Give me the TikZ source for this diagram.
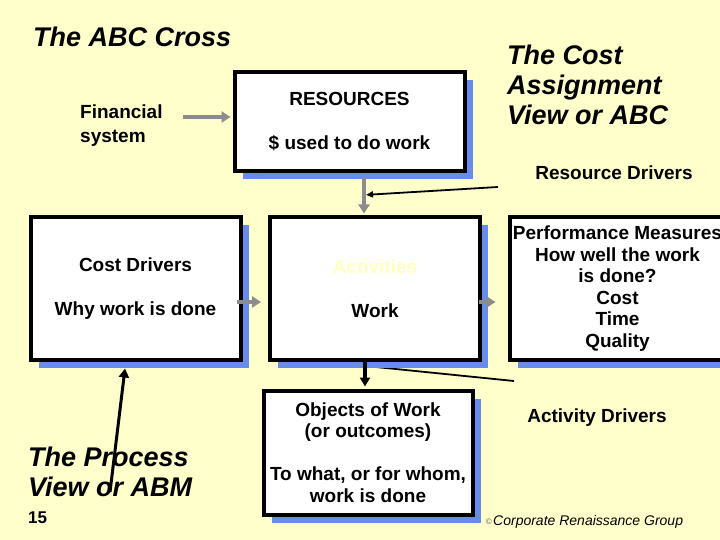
\documentclass[tikz,border=0pt]{standalone}
\usepackage{fontspec}
\setmainfont{Liberation Sans}
\usetikzlibrary{arrows.meta,shadows}
\definecolor{slidebg}{RGB}{255,255,204}
\definecolor{shadeblue}{RGB}{102,140,240}
\definecolor{flowgray}{RGB}{140,140,140}
\definecolor{paleyellow}{RGB}{255,255,190}
\newcommand{\bodyfont}{\fontsize{19}{21.5}\selectfont\bfseries}
\newcommand{\titlefont}{\fontsize{27}{30}\selectfont\bfseries\itshape}

\begin{document}
\begin{tikzpicture}[x=1pt,y=-1pt,
    box/.style={draw=black,line width=4pt,fill=white,align=center,font=\bodyfont,inner sep=0pt,
      drop shadow={shadow xshift=8pt,shadow yshift=-8pt,fill=shadeblue,opacity=1}},
    flow/.style={-{Triangle[length=9pt,width=11pt]},line width=4pt,flowgray},
    push/.style={-{Triangle[length=9pt,width=10pt]},line width=3.5pt,black},
    driver/.style={-{Triangle[length=7pt,width=6pt]},line width=1.8pt,black},
    title/.style={font=\titlefont,align=left,anchor=west,inner sep=0pt},
    label/.style={font=\bodyfont,inner sep=0pt}]
    \fill[slidebg] (0,0) rectangle (720,540);
    \useasboundingbox (0,0) rectangle (720,540);
    \clip (0,0) rectangle (720,540);

    % titles and labels
    \node[title] (cross) at (33,37) {The ABC Cross};
    \node[title] (costview) at (507,85) {The Cost\\Assignment\\View or ABC};
    \node[title] (procview) at (28,472) {The Process\\View or ABM};
    \node[label,anchor=west,align=left] (fin) at (80,126) {Financial\\[2.5pt]system};
    \node[label] (rdlabel) at (614,173) {Resource Drivers};
    \node[label] (adlabel) at (597,418) {Activity Drivers};
    \node[anchor=west,font=\fontsize{17}{20}\selectfont\bfseries,inner sep=0pt] (page) at (28,518) {15};
    \node[anchor=west,font=\fontsize{14}{16}\selectfont\itshape,inner sep=0pt] (credit) at (493,522) {Corporate Renaissance Group};
    \node[anchor=east,font=\fontsize{8}{9}\selectfont,text=black!60,inner sep=1pt] (copy) at (credit.west) {©};

    % activity drivers line, runs under the shadow
    \coordinate (adstart) at (514,381);
    \coordinate (adtarget) at (366,366);
    \draw[line width=1.8pt] (adstart) -- (adtarget);

    % boxes
    \node[box,minimum width=230pt,minimum height=99pt] (res) at (349.5,122) {RESOURCES\\[22.5pt]\$ used to do work};
    \node[box,minimum width=210pt,minimum height=142pt] (cost) at (135.5,288.5) {Cost Drivers\\[22.5pt]Why work is done};
    \node[box,minimum width=210pt,minimum height=142pt] (act) at (375,288.5) {\textcolor{paleyellow}{Activities}\\[22.5pt]Work};
    \node[box,minimum width=216pt,minimum height=142pt] (perf) at (617.5,288.5) {Performance Measures\\How well the work\\is done?\\Cost\\Time\\Quality};
    \node[box,minimum width=209pt,minimum height=124pt] (obj) at (368,452.5) {Objects of Work\\(or outcomes)\\[21.5pt]To what, or for whom,\\work is done};

    % gray flow
    \coordinate (finout) at (183,117);
    \draw[flow,shorten >=2pt] (finout) -- (finout -| res.west);
    \draw[flow,shorten >=2pt] ([xshift=14.5pt,yshift=-4pt]res.south) -- coordinate[pos=0.46] (rdtarget) ([xshift=14.5pt]res.south |- act.north);
    \draw[flow] ([yshift=-13.5pt,xshift=-6pt]cost.east) -- ([yshift=-13.5pt,xshift=-7pt]act.west);
    \draw[flow] ([yshift=-13.5pt,xshift=-3pt]act.east) -- ([yshift=-13.5pt,xshift=-12pt]perf.west);

    % black arrows
    \coordinate (rdstart) at (498,187);
    \draw[driver,shorten >=2pt] (rdstart) -- (rdtarget);
    \draw[push,shorten >=2pt] ([xshift=-10pt]act.south) -- ([xshift=-3pt]obj.north);
    \coordinate (procstart) at (110,492);
    \draw[push,line width=3pt] (procstart) -- ([xshift=-10.5pt,yshift=-7pt]cost.south);
\end{tikzpicture}
\end{document}
